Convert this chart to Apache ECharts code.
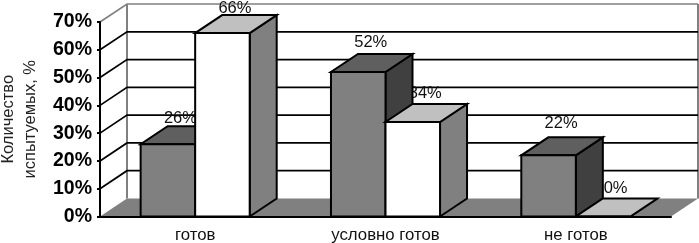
<!DOCTYPE html>
<html><head><meta charset="utf-8">
<style>html,body{margin:0;padding:0;background:#fff}#c{width:699px;height:243px}</style>
<script src="https://cdn.jsdelivr.net/npm/echarts@6/dist/echarts.min.js"></script>
</head><body><div id="c"></div>
<script>
const categories = ['готов', 'условно готов', 'не готов'];
const darkSeries = [26, 52, 22];
const lightSeries = [66, 34, 0];
const yTicks = [0, 10, 20, 30, 40, 50, 60, 70];

const DX = 27, DY = -18, FONT = '"Liberation Sans", Arial, sans-serif';
const darkFaces = { front: '#808080', top: '#5f5f5f', side: '#404040' };
const lightFaces = { front: '#ffffff', top: '#c0c0c0', side: '#808080' };
const BAR_SHARE = 0.2865;
const edge = { stroke: '#000', lineWidth: 2, lineJoin: 'miter' };
const darkLift = [-26, -30, -32];
const lightLift = [-25, -29, -28];

function poly(points, fill) {
  return { type: 'polygon', shape: { points }, style: Object.assign({ fill }, edge) };
}
function barRenderer(faces, side) {
  return function (params, api) {
    const idx = api.value(0), val = api.value(1);
    const base = api.coord([idx, 0]), top = api.coord([idx, val]);
    const w = api.size([1, 0])[0] * BAR_SHARE;
    const x0 = base[0] + (side < 0 ? -w : 0), x1 = x0 + w;
    const yB = base[1], yT = top[1];
    return { type: 'group', children: [
      poly([[x1, yB], [x1 + DX, yB + DY], [x1 + DX, yT + DY], [x1, yT]], faces.side),
      poly([[x0, yT], [x1, yT], [x1 + DX, yT + DY], [x0 + DX, yT + DY]], faces.top),
      poly([[x0, yB], [x1, yB], [x1, yT], [x0, yT]], faces.front)
    ] };
  };
}
function labelRenderer(side, lift) {
  return function (params, api) {
    const idx = api.value(0), val = api.value(1);
    const base = api.coord([idx, 0]), top = api.coord([idx, val]);
    const w = api.size([1, 0])[0] * BAR_SHARE;
    return { type: 'text', style: {
      text: val + '%', x: base[0] + side * w / 2 + DX / 2 - 1, y: top[1] + lift[idx],
      align: 'center', verticalAlign: 'middle', font: '16.5px ' + FONT, fill: '#111'
    } };
  };
}
function wallRenderer(params, api) {
  const v = api.value(0), p = api.coord([0, v]);
  const cs = params.coordSys;
  if (v === 0) return { type: 'group', children: [] };
  const color = v === 70 ? '#808080' : '#000';
  return { type: 'polyline', shape: { points: [[cs.x, p[1]], [cs.x + DX, p[1] + DY], [cs.x + cs.width + DX, p[1] + DY]] },
    style: { fill: 'none', stroke: color, lineWidth: 1.7 } };
}
function floorRenderer(params) {
  const cs = params.coordSys, xL = cs.x, xR = cs.x + cs.width, yB = cs.y + cs.height, yT = cs.y;
  return { type: 'group', children: [
    { type: 'polyline', shape: { points: [[xL + DX, yB + DY], [xL + DX, yT + DY]] }, style: { fill: 'none', stroke: '#808080', lineWidth: 2 } },
    { type: 'polyline', shape: { points: [[xR + DX, yT + DY], [xR + DX, yB + DY]] }, style: { fill: 'none', stroke: '#808080', lineWidth: 2 } },
    { type: 'polygon', shape: { points: [[xL, yB], [xR, yB], [xR + DX, yB + DY], [xL + DX, yB + DY]] }, style: { fill: '#808080' } }
  ] };
}
const common = { type: 'custom', coordinateSystem: 'cartesian2d', silent: true, animation: false, clip: false };
const pairs = a => a.map((v, i) => [i, v]);

const chart = echarts.init(document.getElementById('c'), null, { renderer: 'canvas' });
chart.setOption({
  animation: false,
  backgroundColor: '#fff',
  grid: { left: 100, top: 22, width: 571, height: 194.5, containLabel: false, outerBoundsMode: 'none' },
  xAxis: {
    type: 'category', data: categories, boundaryGap: true, z: 6,
    axisLine: { lineStyle: { color: '#000', width: 2 } },
    axisTick: { length: 3, lineStyle: { color: '#000', width: 2 } },
    axisLabel: { fontFamily: FONT, fontSize: 16.8, color: '#111', margin: 10 }
  },
  yAxis: {
    type: 'value', min: 0, max: 70, interval: 10, z: 6,
    name: 'Количество\nиспытуемых, %', nameLocation: 'middle', nameRotate: 90, nameGap: 59,
    nameTextStyle: { fontFamily: FONT, fontSize: 16.5, color: '#222', lineHeight: 22 },
    splitLine: { show: false },
    axisLine: { show: true, lineStyle: { color: '#000', width: 2 } },
    axisTick: { show: true, length: 3, lineStyle: { color: '#000', width: 2 } },
    axisLabel: { formatter: '{value}%', fontFamily: FONT, fontSize: 19.5, fontWeight: 'bold', color: '#000', margin: 8 }
  },
  series: [
    Object.assign({}, common, { name: 'floor', z: 1, data: [[0, 0]], renderItem: floorRenderer }),
    Object.assign({}, common, { name: 'walls', z: 2, data: yTicks.map(v => [v]), encode: { y: 0 }, renderItem: wallRenderer }),
    Object.assign({}, common, { name: 'labels dark', z: 3, data: pairs(darkSeries), renderItem: labelRenderer(-1, darkLift) }),
    Object.assign({}, common, { name: 'labels light', z: 3, data: pairs(lightSeries), renderItem: labelRenderer(1, lightLift) }),
    Object.assign({}, common, { name: 'dark', z: 4, data: pairs(darkSeries), renderItem: barRenderer(darkFaces, -1) }),
    Object.assign({}, common, { name: 'light', z: 5, data: pairs(lightSeries), renderItem: barRenderer(lightFaces, 1) })
  ]
});
</script></body></html>
